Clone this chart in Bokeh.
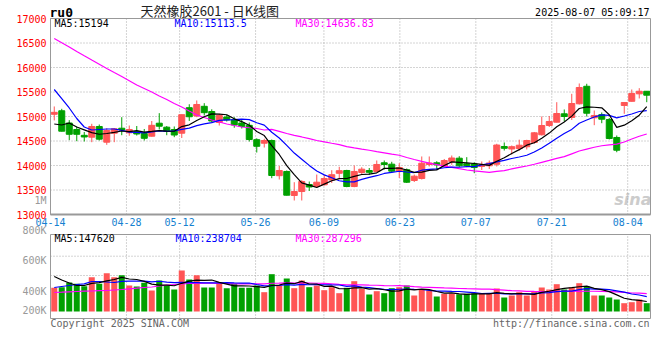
from bokeh.plotting import figure
from bokeh.models import (Range1d, FixedTicker, Label, ColumnDataSource, CustomJSTickFormatter,
                          LinearAxis, BoxAnnotation)
from bokeh.embed import file_html
from bokeh.resources import INLINE

# ---------------- data ----------------
dates = ["04-14", "04-15", "04-16", "04-17", "04-18", "04-21", "04-22", "04-23", "04-24", "04-25",
         "04-28", "04-29", "04-30", "05-06", "05-07", "05-08", "05-09", "05-12", "05-13", "05-14",
         "05-15", "05-16", "05-19", "05-20", "05-21", "05-22", "05-23", "05-26", "05-27", "05-28",
         "05-29", "05-30", "06-03", "06-04", "06-05", "06-06", "06-09", "06-10", "06-11", "06-12",
         "06-13", "06-16", "06-17", "06-18", "06-19", "06-20", "06-23", "06-24", "06-25", "06-26",
         "06-27", "06-30", "07-01", "07-02", "07-03", "07-04", "07-07", "07-08", "07-09", "07-10",
         "07-11", "07-14", "07-15", "07-16", "07-17", "07-18", "07-21", "07-22", "07-23", "07-24",
         "07-25", "07-28", "07-29", "07-30", "07-31", "08-01", "08-04", "08-05", "08-06", "08-07"]

opens = [15045, 15117, 14867, 14735, 14616, 14578, 14796, 14476, 14659, 14761,
         14667, 14694, 14653, 14598, 14863, 14782, 14735, 14659, 15180, 15010,
         15208, 15102, 14878, 14990, 14935, 14868, 14820, 14527, 14455, 14510,
         13792, 13878, 13388, 13469, 13612, 13571, 13606, 13704, 13841, 13898,
         13571, 13857, 13898, 13878, 14055, 14027, 13888, 13914, 13694, 13735,
         14021, 14055, 13980, 14082, 14149, 14035, 14031, 13980, 13994, 14025,
         14388, 14337, 14347, 14382, 14470, 14627, 14816, 14884, 15055, 14980,
         15259, 15617, 14974, 15037, 14939, 14572, 15225, 15310, 15463, 15515]
highs = [15205, 15157, 14925, 14790, 14684, 14851, 14837, 14761, 14761, 14986,
         14816, 14806, 14745, 14908, 15068, 14806, 14796, 15041, 15250, 15327,
         15272, 15147, 15055, 15035, 14986, 14949, 14878, 14555, 14545, 14530,
         13990, 13898, 13659, 13700, 13673, 13816, 13806, 13904, 13974, 13912,
         14000, 13965, 13949, 14102, 14102, 14076, 14047, 13939, 13816, 14184,
         14184, 14088, 14133, 14204, 14190, 14170, 14067, 14082, 14102, 14443,
         14470, 14408, 14527, 14525, 14684, 15000, 15010, 15292, 15143, 15463,
         15674, 15668, 15123, 15082, 14970, 14612, 15292, 15551, 15578, 15520]
lows = [14920, 14694, 14517, 14496, 14490, 14476, 14510, 14422, 14476, 14618,
        14606, 14612, 14510, 14590, 14735, 14618, 14578, 14561, 14910, 14986,
        15021, 14878, 14816, 14898, 14770, 14755, 14490, 14265, 14367, 13741,
        13714, 13388, 13286, 13286, 13480, 13551, 13592, 13643, 13735, 13557,
        13557, 13816, 13810, 13863, 13918, 13857, 13745, 13643, 13663, 13714,
        13980, 13912, 13966, 14014, 13970, 13966, 13843, 13908, 13929, 13980,
        14306, 14225, 14306, 14327, 14443, 14612, 14786, 14878, 14898, 14929,
        15245, 15000, 14823, 14863, 14531, 14271, 15055, 15306, 15368, 15292]
closes = [15085, 14700, 14637, 14637, 14582, 14796, 14537, 14714, 14749, 14725,
          14735, 14643, 14555, 14820, 14802, 14694, 14622, 15037, 14995, 15245,
          15078, 14908, 15021, 14929, 14827, 14796, 14530, 14392, 14510, 13796,
          13898, 13394, 13469, 13674, 13561, 13659, 13735, 13812, 13894, 13571,
          13878, 13925, 13861, 14021, 14021, 13884, 13959, 13659, 13782, 14047,
          14051, 14014, 14102, 14153, 13994, 13996, 13959, 14014, 14051, 14418,
          14351, 14384, 14414, 14510, 14667, 14816, 14898, 15061, 15000, 15265,
          15592, 15067, 15021, 14945, 14551, 14312, 15286, 15470, 15515, 15435]
volumes = [379000, 389000, 464000, 443000, 405000, 549000, 443000, 613000, 549000, 581000,
           416000, 400000, 459000, 336000, 496000, 416000, 352000, 656000, 512000, 581000,
           384000, 384000, 464000, 373000, 443000, 379000, 379000, 416000, 309000, 597000,
           416000, 528000, 373000, 496000, 389000, 416000, 341000, 389000, 293000, 379000,
           485000, 363000, 272000, 325000, 293000, 373000, 389000, 416000, 256000, 352000,
           336000, 240000, 283000, 283000, 275000, 283000, 290000, 283000, 283000, 368000,
           224000, 256000, 309000, 256000, 320000, 384000, 352000, 437000, 352000, 384000,
           453000, 400000, 256000, 256000, 224000, 192000, 133000, 149000, 192000, 133000]

# moving-average values before a full window exists
ma5_head = [14847, 14827, 14868, 14786]
ma10_head = [15551, 15367, 15174, 14959, 14786, 14725, 14735, 14745, 14745]
ma30_head = [16592, 16504, 16419, 16327, 16239, 16153, 16068, 15980, 15898, 15817,
             15731, 15643, 15572, 15500, 15419, 15347, 15266, 15194, 15112, 15031,
             14980, 14929, 14888, 14847, 14816, 14786, 14770, 14755, 14725]
vma5_head = [560000, 504000, 456000, 416000]
vma10_head = [384000, 400000, 416000, 432000, 443000, 480000, 480000, 472000, 464000]
vma30_head = [304000, 309000, 315000, 320000, 325000, 328000, 333000, 336000, 344000, 352000,
              363000, 373000, 384000, 392000, 408000, 424000, 432000, 440000, 448000, 451000,
              453000, 453000, 448000, 448000, 443000, 443000, 443000, 443000, 443000]

date_tick_labels = ["04-14", "04-28", "05-12", "05-26", "06-09", "06-23", "07-07", "07-21", "08-04"]
price_ticks = [13000, 13500, 14000, 14500, 15000, 15500, 16000, 16500, 17000]
vol_tick_labels = ["1M", "800K", "600K", "400K", "200K"]

symbol = "ru0"
title_text = "天然橡胶2601 - 日K线图"
stamp = "2025-08-07 05:09:17"
ma_texts = ["MA5:15194", "MA10:15113.5", "MA30:14636.83"]
vma_texts = ["MA5:147620", "MA10:238704", "MA30:287296"]
copyright_text = "Copyright 2025 SINA.COM"
url_text = "http://finance.sina.com.cn"
watermark = "sina"

# ---------------- helpers ----------------
n = len(dates)
xs = list(range(n))


def moving(vals, w, head):
    out = []
    for i in range(len(vals)):
        if i >= w - 1:
            out.append(sum(vals[i - w + 1:i + 1]) / w)
        else:
            out.append(head[i])
    return out


RED = "#ff5555"
GREEN = "#00a000"
GRID = "#a8a8a8"
BORDER = "#999999"
MONO = "DejaVu Sans Mono"
W, H = 660, 350

colors = [RED if c >= o else GREEN for o, c in zip(opens, closes)]
src = ColumnDataSource(dict(
    x=xs, h=highs, l=lows,
    top=[max(o, c) for o, c in zip(opens, closes)],
    bot=[min(o, c) for o, c in zip(opens, closes)],
    vol=volumes, color=colors,
    ma5=moving(closes, 5, ma5_head), ma10=moving(closes, 10, ma10_head),
    ma30=moving(closes, 30, ma30_head),
    vma5=moving(volumes, 5, vma5_head), vma10=moving(volumes, 10, vma10_head),
    vma30=moving(volumes, 30, vma30_head),
))

# pixel <-> data layout helpers (layout only, no values)
P_TOP, P_BOT = 18, 214          # price panel, pixel rows
V_TOP, V_BOT, V_BASE = 234, 318, 311   # volume panel, pixel rows
BAR_PX = 7.5
LEFT = 50
VOL_PER_PX = 16000


def px_x(px):
    return -0.5 + (px - LEFT) / BAR_PX


def px_y(py):
    return price_ticks[0] + (P_BOT - py) * (price_ticks[-1] - price_ticks[0]) / (P_BOT - P_TOP)


def px_v(py):
    return (V_BASE - py) * VOL_PER_PX


x_lo, x_hi = -0.5, n - 0.5
date_pos = [-0.5 + dates.index(d) * n / (n - 1) for d in date_tick_labels]
vol_label_pos = [px_v(200.3), px_v(230), px_v(260.3), px_v(291), px_v(310.3)]
vol_grid_pos = [px_v(255.7), px_v(275)]

# ---------------- figure ----------------
p = figure(width=W, height=H, title=None, output_backend="svg", toolbar_location=None,
           x_axis_type=None, y_axis_type=None,
           x_range=Range1d(px_x(0), px_x(W)), y_range=Range1d(px_y(H), px_y(0)),
           min_border=0, min_border_left=0, min_border_right=0, min_border_top=0,
           min_border_bottom=0)
p.extra_y_ranges = {"vol": Range1d(px_v(H), px_v(0))}
p.outline_line_color = None
p.background_fill_color = "white"
p.border_fill_color = "white"

# watermark (under everything)
p.add_layout(Label(x=px_x(651), y=px_y(199), text=watermark, text_color="#cccccc",
                   text_font="DejaVu Sans", text_font_size="16px", text_font_style="bold italic",
                   text_align="right", text_baseline="middle", level="underlay"))

# dotted grid lines
p.segment(x0=x_lo, x1=x_hi, y0=price_ticks[1:-1], y1=price_ticks[1:-1],
          line_color=GRID, line_dash="1 2", line_width=1)
p.segment(x0=date_pos[1:], x1=date_pos[1:], y0=price_ticks[0], y1=price_ticks[-1],
          line_color=GRID, line_dash="1 2", line_width=1)
p.segment(x0=date_pos[1:], x1=date_pos[1:], y0=px_v(V_BOT), y1=px_v(V_TOP),
          line_color=GRID, line_dash="1 2", line_width=1, y_range_name="vol")
p.segment(x0=x_lo, x1=x_hi, y0=vol_grid_pos, y1=vol_grid_pos,
          line_color=GRID, line_dash="1 2", line_width=1, y_range_name="vol")

# panel borders
p.add_layout(BoxAnnotation(left=x_lo, right=x_hi, bottom=price_ticks[0], top=price_ticks[-1],
                           fill_alpha=0, line_color=BORDER, line_alpha=1, line_width=1))
p.add_layout(BoxAnnotation(left=x_lo, right=x_hi, bottom=px_v(V_BOT), top=px_v(V_TOP),
                           fill_alpha=0, line_color=BORDER, line_alpha=1, line_width=1,
                           y_range_name="vol"))


def style_axis(ax, color, standoff):
    ax.major_label_text_color = color
    ax.major_label_text_font = MONO
    ax.major_label_text_font_size = "10px"
    ax.major_tick_line_color = None
    ax.minor_tick_line_color = None
    ax.major_tick_out = 0
    ax.major_tick_in = 0
    ax.major_label_standoff = standoff


def pick_label_js(tol):
    return """
let best = 0, bd = %s;
for (let i = 0; i < pos.length; i++) { const d = Math.abs(pos[i] - tick); if (d < bd) { bd = d; best = i; } }
return labs[best];
""" % tol


# price axis (red)
pa = LinearAxis(fixed_location=x_lo, bounds=(price_ticks[0], price_ticks[-1]),
                ticker=FixedTicker(ticks=price_ticks))
style_axis(pa, "#ff0000", 4)
pa.axis_line_color = BORDER
p.add_layout(pa, "left")

# volume axis (grey)
va = LinearAxis(y_range_name="vol", fixed_location=x_lo, ticker=FixedTicker(ticks=vol_label_pos))
va.formatter = CustomJSTickFormatter(args=dict(pos=vol_label_pos, labs=vol_tick_labels),
                                     code=pick_label_js("1e18"))
style_axis(va, "#999999", 4)
va.axis_line_color = None
p.add_layout(va, "left")

# date axis (blue)
da = LinearAxis(fixed_location=price_ticks[0], bounds=(x_lo, x_hi), ticker=FixedTicker(ticks=date_pos))
da.formatter = CustomJSTickFormatter(args=dict(pos=date_pos, labs=date_tick_labels),
                                     code=pick_label_js("1e9"))
style_axis(da, "#1581d0", 3)
da.axis_line_color = BORDER
da.axis_line_width = 2
p.add_layout(da, "below")

# candles
p.segment(x0="x", y0="l", x1="x", y1="h", color="color", line_width=1, source=src)
p.vbar(x="x", width=0.8, top="top", bottom="bot", fill_color="color", line_color="color",
       line_width=1, source=src)
p.line(x="x", y="ma30", color="#ff00ff", line_width=1.2, source=src)
p.line(x="x", y="ma10", color="#0000ff", line_width=1.2, source=src)
p.line(x="x", y="ma5", color="#000000", line_width=1.2, source=src)

# volume
p.vbar(x="x", width=0.8, top="vol", bottom=0, fill_color="color", line_color=None, source=src,
       y_range_name="vol")
p.line(x="x", y="vma30", color="#ff00ff", line_width=1.2, source=src, y_range_name="vol")
p.line(x="x", y="vma10", color="#0000ff", line_width=1.2, source=src, y_range_name="vol")
p.line(x="x", y="vma5", color="#000000", line_width=1.2, source=src, y_range_name="vol")


def add_label(x, y, text, color, size="10px", align="left", font=MONO, style="normal"):
    p.add_layout(Label(x=x, y=y, text=text, text_color=color, text_font=font,
                       text_font_size=size, text_align=align, text_baseline="middle",
                       text_font_style=style))


add_label(px_x(49), px_y(11.5), symbol, "#000000", size="13px", style="bold")
add_label(px_x(140), px_y(9.5), title_text, "#222222", size="13px", font="Noto Sans CJK SC")
add_label(px_x(649), px_y(12), stamp, "#000000", align="right")
add_label(px_x(54), px_y(23), ma_texts[0], "#000000")
add_label(px_x(174), px_y(23), ma_texts[1], "#0000ff")
add_label(px_x(295), px_y(23), ma_texts[2], "#ff00ff")
add_label(px_x(54), px_y(238.3), vma_texts[0], "#000000")
add_label(px_x(175), px_y(238.3), vma_texts[1], "#0000ff")
add_label(px_x(295), px_y(238.3), vma_texts[2], "#ff00ff")
add_label(px_x(50), px_y(323.3), copyright_text, "#666666")
add_label(px_x(649), px_y(323.3), url_text, "#666666", align="right")

open("out.html", "w").write(file_html(p, INLINE))
